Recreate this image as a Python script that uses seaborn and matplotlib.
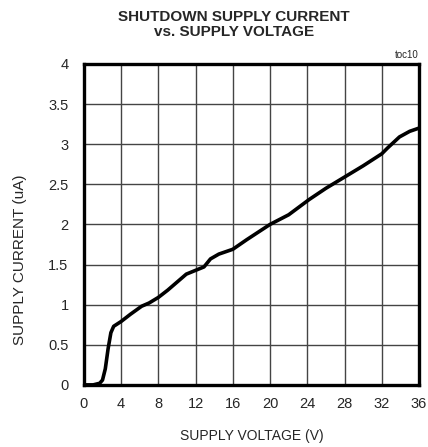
import matplotlib
matplotlib.use('Agg')
import matplotlib.pyplot as plt
import seaborn as sns
import pandas as pd

# curve
voltage = [0, 1, 1.7, 2.0, 2.3, 2.6, 2.9, 3.2, 3.6, 4, 5, 6.2, 7, 8, 9, 11,
           12.9, 13.6, 14.5, 16, 17.5, 20, 22, 24.2, 26, 28, 30, 32, 32.6,
           33.9, 35, 36]
current = [0, 0, 0.02, 0.06, 0.2, 0.45, 0.65, 0.73, 0.76, 0.79, 0.88, 0.98,
           1.02, 1.09, 1.18, 1.38, 1.47, 1.57, 1.63, 1.69, 1.81, 2.0, 2.12,
           2.31, 2.45, 2.59, 2.73, 2.88, 2.95, 3.09, 3.16, 3.20]
x_ticks = [0, 4, 8, 12, 16, 20, 24, 28, 32, 36]
y_ticks = [0, 0.5, 1, 1.5, 2, 2.5, 3, 3.5, 4]
y_labels = ['0', '0.5', '1', '1.5', '2', '2.5', '3', '3.5', '4']

df = pd.DataFrame({'V': voltage, 'I': current})

sns.set_style('white')
plt.rcParams['font.family'] = ['Liberation Sans Narrow', 'Liberation Sans', 'DejaVu Sans']

fig = plt.figure(figsize=(4.28, 4.47), dpi=100)
ax = fig.add_axes([0.196, 0.139, 0.783, 0.718])

sns.lineplot(data=df, x='V', y='I', ax=ax, color='black', linewidth=2.6)

ax.set_xlim(0, 36)
ax.set_ylim(0, 4)
ax.set_xticks(x_ticks)
ax.set_xticklabels([str(t) for t in x_ticks])
ax.set_yticks(y_ticks)
ax.set_yticklabels(y_labels)
ax.tick_params(axis='both', length=0, labelsize=10.5)
ax.tick_params(axis='x', pad=9)
ax.tick_params(axis='y', pad=11)
ax.grid(True, color='#444444', linewidth=1.0)
for s in ax.spines.values():
    s.set_visible(True)
    s.set_color('black')
    s.set_linewidth(2.4)

ax.set_xlabel('SUPPLY VOLTAGE (V)', fontsize=10, labelpad=13)
ax.set_ylabel('SUPPLY CURRENT (uA)', fontsize=11)
ax.yaxis.set_label_coords(-0.17, 0.39)
fig.text(0.547, 0.978, 'SHUTDOWN SUPPLY CURRENT\nvs. SUPPLY VOLTAGE', ha='center',
         va='top', fontsize=11, fontweight='bold', linespacing=1.1)
fig.text(0.979, 0.866, 'toc10', ha='right', va='bottom', fontsize=7)

fig.savefig('out.png', dpi=100)
